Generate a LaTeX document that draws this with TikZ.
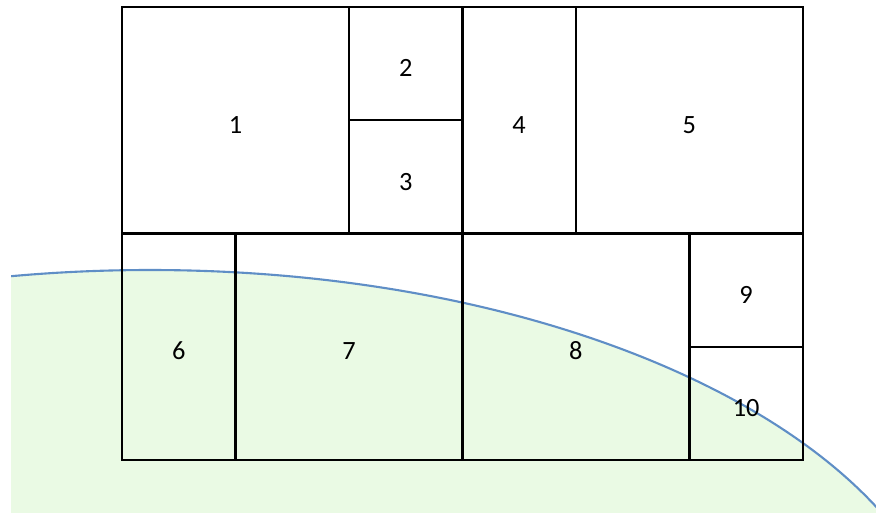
\documentclass[tikz,border=0pt]{standalone}
\usepackage{fontspec}
\setmainfont{Carlito}
\usetikzlibrary{positioning}
\definecolor{cZone}{RGB}{234,250,228}
\definecolor{cEdge}{RGB}{95,142,198}

\begin{document}
\begin{tikzpicture}[x=0.02cm, y=-0.02cm,
      cell/.style={draw, line width=1.3pt, inner sep=0pt, outer sep=0pt,
                   minimum width=2.27cm, minimum height=2.265cm,
                   text height=15pt, text depth=0pt,
                   font=\fontsize{15}{18}\selectfont},
      wide/.style={minimum width=4.54cm},
      tall/.style={minimum height=4.53cm},
      zone/.style={fill=cZone, draw=cEdge, line width=1.2pt}
    ]
    \useasboundingbox (0,0) rectangle (876,512);

    % coverage area
    \begin{scope}
      \clip (11,0) rectangle (876,512);
      \draw[zone] (150,687) ellipse [x radius=805, y radius=417];
    \end{scope}

    % top row
    \node[cell, wide, tall, anchor=north west] (c1) at (122,7) {1};
    \node[cell, anchor=north west] (c2) at (c1.north east) {2};
    \node[cell, below=0pt of c2] (c3) {3};
    \node[cell, tall, anchor=north west] (c4) at (c2.north east) {4};
    \node[cell, wide, tall, anchor=north west] (c5) at (c4.north east) {5};

    % bottom row
    \node[cell, tall, anchor=north west] (c6) at (c1.south west) {6};
    \node[cell, wide, tall, anchor=north west] (c7) at (c6.north east) {7};
    \node[cell, wide, tall, anchor=north west] (c8) at (c7.north east) {8};
    \node[cell, anchor=north west] (c9) at (c8.north east) {9};
    \node[cell, below=0pt of c9] (c10) {10};
  \end{tikzpicture}
\end{document}
